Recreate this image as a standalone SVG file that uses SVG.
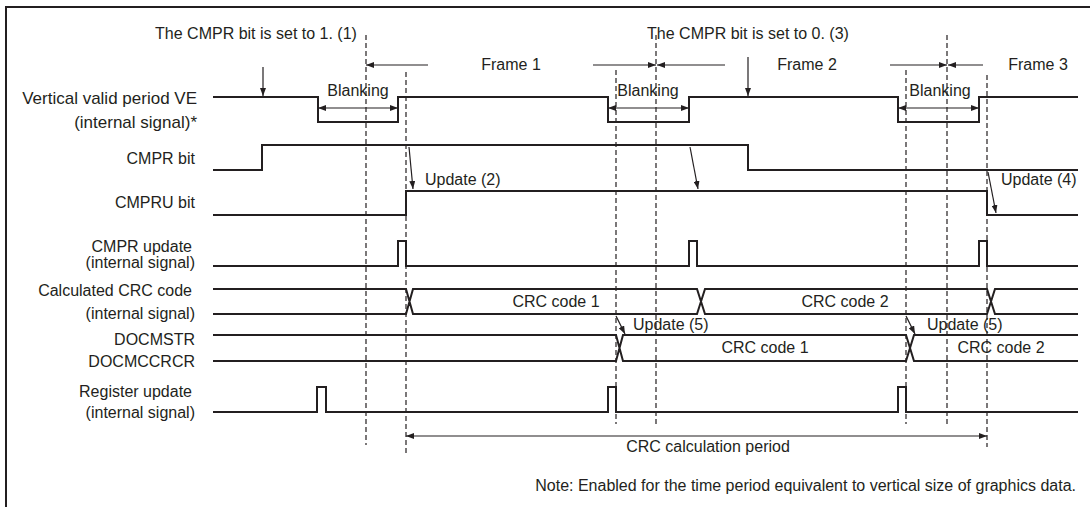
<svg xmlns="http://www.w3.org/2000/svg" width="1090" height="507" viewBox="0 0 1090 507">
<defs>
<style>
text{font-family:"Liberation Sans",Arial,sans-serif;font-size:16px;fill:#231f20}
.lab{text-anchor:end}
.mid{text-anchor:middle}
.sig{fill:none;stroke:#231f20;stroke-width:2}
.dash{fill:none;stroke:#231f20;stroke-width:1.2;stroke-dasharray:5,3}
.arr{fill:none;stroke:#231f20;stroke-width:1.2}
.a1{marker-end:url(#ah)}
.a2{marker-start:url(#ah);marker-end:url(#ah)}
</style>
<marker id="ah" viewBox="0 0 8 6" refX="8" refY="3" markerWidth="8" markerHeight="6" orient="auto-start-reverse" markerUnits="userSpaceOnUse"><path d="M0,0 L8,3 L0,6 z" fill="#231f20"/></marker>
</defs>
<rect width="1090" height="507" fill="#fff"/>
<path d="M6,507 V7 H1090" fill="none" stroke="#231f20" stroke-width="2"/>

<g id="labels">
<text class="lab" x="197" y="104" style="font-size:17px">Vertical valid period VE</text>
<text class="lab" x="197" y="128" style="font-size:17px">(internal signal)*</text>
<text class="lab" x="195" y="164">CMPR bit</text>
<text class="lab" x="195" y="208">CMPRU bit</text>
<text class="lab" x="192" y="252">CMPR update</text>
<text class="lab" x="195" y="268">(internal signal)</text>
<text class="lab" x="192" y="296">Calculated CRC code</text>
<text class="lab" x="195" y="319">(internal signal)</text>
<text class="lab" x="195" y="345">DOCMSTR</text>
<text class="lab" x="195" y="367">DOCMCCRCR</text>
<text class="lab" x="192" y="397">Register update</text>
<text class="lab" x="195" y="418">(internal signal)</text>
</g>

<g id="guides">
<line class="dash" x1="366" y1="35" x2="366" y2="445"/>
<line class="dash" x1="406" y1="72" x2="406" y2="455"/>
<line class="dash" x1="616" y1="70" x2="616" y2="424"/>
<line class="dash" x1="656" y1="35" x2="656" y2="424"/>
<line class="dash" x1="906" y1="70" x2="906" y2="424"/>
<line class="dash" x1="947" y1="35" x2="947" y2="424"/>
<line class="dash" x1="987" y1="75" x2="987" y2="447"/>
</g>

<g id="sig-ve">
<path class="sig" d="M213,97 H318 V122 H398 V97 H608 V122 H689 V97 H898 V122 H979 V97 H1078"/>
</g>
<g id="sig-cmpr">
<path class="sig" d="M213,170 H262 V145 H748 V170 H1078"/>
</g>
<g id="sig-cmpru">
<path class="sig" d="M213,215 H406 V191 H987 V215 H1078"/>
</g>
<g id="sig-cmpr-update">
<path class="sig" d="M213,266 H398 V241 H406 V266 H689 V241 H697 V266 H979 V241 H987 V266 H1078"/>
</g>
<g id="sig-crc">
<path class="sig" d="M213,289 H406 L413,314 H697 L705,289 H987 L995,314 H1078 M213,314 H406 L413,289 H697 L705,314 H987 L995,289 H1078"/>
<text class="mid" x="556" y="307">CRC code 1</text>
<text class="mid" x="845" y="307">CRC code 2</text>
</g>
<g id="sig-docm">
<path class="sig" d="M213,335 H616 L623,361 H906 L914,335 H1078 M213,361 H616 L623,335 H906 L914,361 H1078"/>
<text class="mid" x="765" y="353">CRC code 1</text>
<text class="mid" x="1001" y="353">CRC code 2</text>
</g>
<g id="sig-reg-update">
<path class="sig" d="M213,412 H317 V387 H326 V412 H608 V387 H616 V412 H898 V387 H906 V412 H1078"/>
</g>

<g id="connectors">
<line class="arr a1" x1="263" y1="67" x2="263" y2="96"/>
<line class="arr a1" x1="748" y1="57" x2="748" y2="96"/>
<line class="arr a1" x1="428" y1="65" x2="366" y2="65"/>
<line class="arr a1" x1="593" y1="65" x2="656" y2="65"/>
<line class="arr a1" x1="725" y1="65" x2="657" y2="65"/>
<line class="arr a1" x1="890" y1="65" x2="947" y2="65"/>
<line class="arr a1" x1="983" y1="65" x2="948" y2="65"/>
<line class="arr a2" x1="318" y1="108" x2="398" y2="108"/>
<line class="arr a2" x1="608" y1="108" x2="689" y2="108"/>
<line class="arr a2" x1="898" y1="108" x2="979" y2="108"/>
<line class="arr a1" x1="409" y1="147" x2="413" y2="189"/>
<line class="arr a1" x1="690" y1="147" x2="698" y2="189"/>
<line class="arr a1" x1="988" y1="172" x2="996" y2="213"/>
<line class="arr a1" x1="616" y1="316" x2="625" y2="334"/>
<line class="arr a1" x1="906" y1="316" x2="915" y2="334"/>
<line class="arr a2" x1="406" y1="436" x2="987" y2="436"/>
</g>

<g id="annotations">
<text class="mid" x="256" y="39">The CMPR bit is set to 1. (1)</text>
<text class="mid" x="748" y="39">The CMPR bit is set to 0. (3)</text>
<text class="mid" x="511" y="70">Frame 1</text>
<text class="mid" x="807" y="70">Frame 2</text>
<text class="mid" x="1038" y="70">Frame 3</text>
<text class="mid" x="358" y="96">Blanking</text>
<text class="mid" x="648" y="96">Blanking</text>
<text class="mid" x="940" y="96">Blanking</text>
<text x="425" y="185">Update (2)</text>
<text x="1001" y="185">Update (4)</text>
<text x="633" y="330">Update (5)</text>
<text x="927" y="330">Update (5)</text>
<text class="mid" x="708" y="452">CRC calculation period</text>
<text class="lab" x="1076" y="491">Note: Enabled for the time period equivalent to vertical size of graphics data.</text>
</g>
</svg>
